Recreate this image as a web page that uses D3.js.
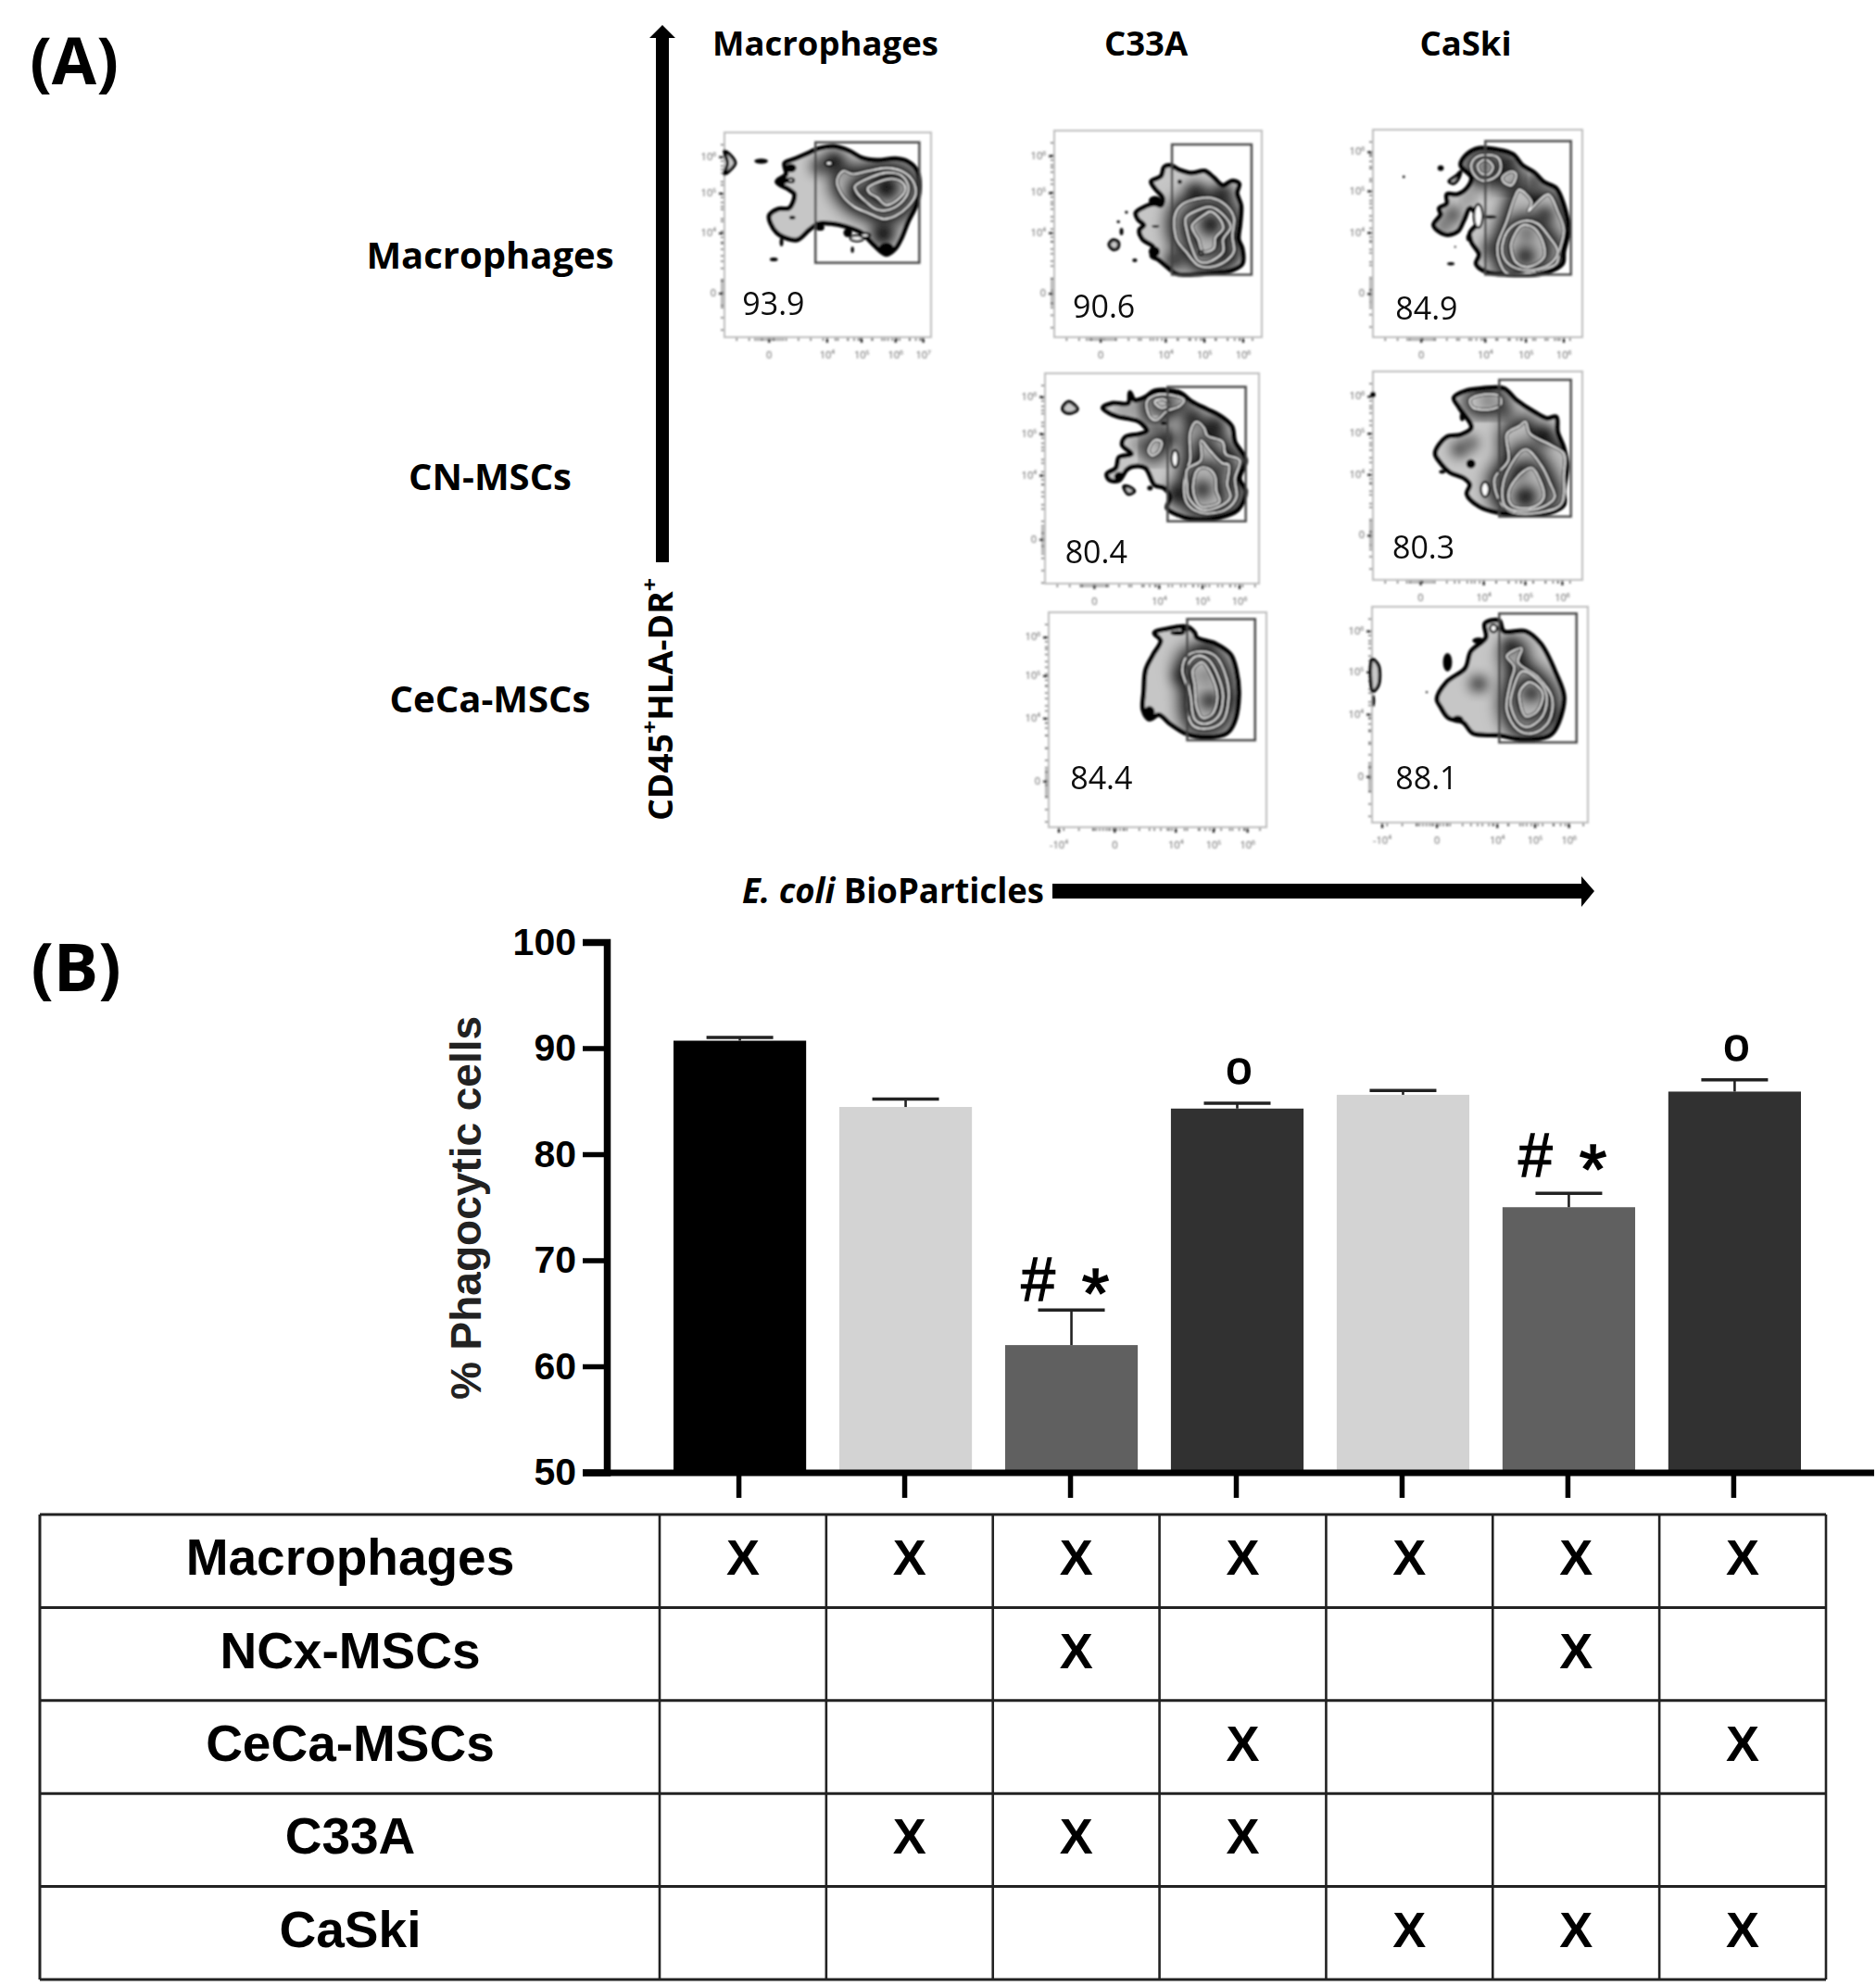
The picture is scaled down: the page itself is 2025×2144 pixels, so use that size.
<!DOCTYPE html>
<html><head><meta charset="utf-8">
<script src="https://cdn.jsdelivr.net/npm/d3@7"></script>
<style>html,body{margin:0;padding:0;background:#fff}svg{display:block}</style>
</head><body><svg id="c" width="2025" height="2144"></svg>
<script>
// ---------- Panel B data ----------
const barGroups=["g1","g2","g3","g4","g5","g6","g7"];
const barValues=[90.7,84.45,62.0,84.3,85.6,75.0,85.9];
const barErrors=[0.3,0.75,3.3,0.5,0.4,1.3,1.1];
const barColors=["#000000","#d3d3d3","#606060","#313131","#d3d3d3","#606060","#313131"];
const yTicks=[50,60,70,80,90,100];
const hashStarBars=[2,5];
const ringBars=[3,6];
const tableRows=["Macrophages","NCx-MSCs","CeCa-MSCs","C33A","CaSki"];
const rowMacrophages=[1,1,1,1,1,1,1];
const rowNCx=[0,0,1,0,0,1,0];
const rowCeCa=[0,0,0,1,0,0,1];
const rowC33A=[0,1,1,1,0,0,0];
const rowCaSki=[0,0,0,0,1,1,1];
const tableMarks=[rowMacrophages,rowNCx,rowCeCa,rowC33A,rowCaSki];

// ---------- Panel A data: gate percentages and contour readings ----------
const colHeaders=["Macrophages","C33A","CaSki"];
const rowHeaders=["Macrophages","CN-MSCs","CeCa-MSCs"];
const gatePercents=["93.9","90.6","84.9","80.4","80.3","84.4","88.1"];
const flowTickLabels=["-10⁴","0","10⁴","10⁵","10⁶","10⁷"];

const p1={
 outer:[[270,340],[300,318],[335,315],[352,270],[335,255],[295,230],[325,205],[320,170],[355,155],[400,135],[430,122],[480,115],[530,130],[570,152],[620,160],[680,155],[720,165],[750,195],[757,260],[745,310],[720,360],[700,410],[680,445],[650,465],[610,435],[570,395],[520,375],[470,365],[430,365],[400,385],[360,418],[320,410],[295,395],[275,365]],
 chains:[[[[490,225],[510,195],[540,205],[590,195],[650,185],[700,195],[735,225],[745,270],[720,310],[680,340],[640,350],[590,330],[545,310],[505,270]],
  [[548,245],[600,215],[650,200],[700,210],[722,250],[705,290],[660,320],[620,320],[585,295],[555,265]],
  [[590,250],[630,228],[670,220],[705,235],[712,255],[690,285],[650,305],[620,280],[595,265]]]],
 cores:[[650,248,32],[480,165,28],[560,270,20],[640,400,30],[430,180,18]],
 blobs:[[244,163,22,8],[285,481,13,6],[345,345,10,6],[312,225,20,13],[340,185,18,14],[650,445,24,18],[435,378,14,10],[525,395,14,14],[310,425,6,14],[540,450,5,10]],
 holes:[[464,170,12,8],[340,225,10,6],[555,413,22,9],[581,403,16,7]],
 islands:[[[125,130],[150,150],[160,170],[140,195],[125,205],[135,170]]],
 gate:[420,102,757,492], label:[183,662], xT:[[270,1],[458,2],[570,3],[680,4],[770,5]], yT:[[150,4],[268,3],[397,2],[592,1]], zero:[270,592]
};
const p2={
 outer:[[408,315],[430,298],[470,285],[490,290],[495,265],[470,235],[458,212],[490,195],[500,165],[520,160],[550,175],[590,185],[630,178],[660,200],[690,225],[720,210],[742,220],[735,250],[748,290],[745,350],[740,400],[752,430],[752,480],[720,500],[650,510],[540,512],[510,490],[480,465],[460,455],[465,425],[430,400],[420,370],[435,355],[415,335]],
 chains:[[[[535,320],[560,285],[600,270],[650,265],[700,290],[725,330],[720,390],[725,440],[700,470],[650,490],[610,485],[570,440],[540,400]],
  [[570,330],[610,305],[650,295],[690,320],[715,360],[690,400],[690,440],[640,475],[610,470],[590,430],[575,380]],
  [[590,355],[630,320],[650,310],[680,335],[690,365],[665,395],[660,430],[625,440],[610,400],[595,375]]]],
 cores:[[650,352,28],[600,245,22],[690,250,22],[530,470,22],[700,450,18]],
 blobs:[[470,275,20,16],[468,440,18,18],[550,213,7,7],[405,468,8,6],[362,375,6,12],[352,343,5,5],[378,312,5,5],[472,358,12,4]],
 holes:[[618,445,6,6]],
 islands:[[[322,417],[335,402],[352,410],[350,428],[335,433]]],
 gate:[525,92,782,515], label:[205,655], xT:[[295,1],[505,2],[630,3],[755,4]], yT:[[130,4],[250,3],[380,2],[577,1]], zero:[295,577]
};
const p3={
 outer:[[322,355],[345,320],[340,300],[365,285],[365,255],[400,255],[430,235],[445,200],[410,160],[430,125],[470,105],[530,110],[580,125],[610,160],[650,185],[680,215],[720,235],[745,290],[760,370],[745,440],[740,480],[680,510],[560,515],[490,505],[460,480],[470,450],[445,410],[440,380],[470,340],[440,300],[420,340],[400,375],[360,385]],
 chains:[[[[445,155],[470,130],[530,135],[540,170],[520,200],[480,210],[450,185]],[[465,160],[490,142],[515,165],[500,190],[475,185]]],
  [[[545,200],[575,180],[590,190],[575,225],[550,215]]],
  [[[530,420],[560,340],[585,265],[600,240],[640,280],[630,310],[650,290],[695,255],[725,310],[745,370],[730,440],[720,480],[650,505],[560,510],[535,470]],
  [[545,420],[570,365],[620,340],[660,350],[695,390],[725,440],[700,480],[640,500],[580,490],[550,460]],
  [[575,410],[610,355],[650,365],[680,420],[680,460],[630,490],[590,475],[575,440]]]],
 cores:[[620,455,24],[625,382,14],[385,320,18],[355,358,14],[435,270,10],[685,320,20],[565,145,18],[490,165,14],[650,210,18],[500,430,14]],
 blobs:[[345,170,10,9],[225,198,4,4],[378,480,12,5],[392,425,3,3],[435,395,7,12],[505,328,22,6]],
 holes:[[467,325,14,38]],
 islands:[[[372,212],[395,195],[410,180],[402,205],[385,220]]],
 gate:[490,82,768,515], label:[198,660], xT:[[282,1],[490,2],[622,3],[745,4]], yT:[[118,4],[245,3],[380,2],[578,1]], zero:[282,578]
};
const p4={
 outer:[[302,150],[335,135],[385,135],[390,100],[405,125],[440,115],[470,95],[550,100],[590,130],[640,155],[680,175],[720,210],[730,260],[765,320],[745,380],[765,420],[740,480],[680,505],[590,510],[540,495],[510,475],[520,440],[500,410],[470,400],[440,345],[400,340],[380,350],[355,385],[325,385],[315,365],[345,345],[355,310],[395,300],[365,270],[375,245],[420,235],[445,225],[420,195],[385,185],[350,178],[320,165]],
 chains:[[[[445,130],[470,110],[530,110],[565,125],[550,145],[510,160],[475,190],[455,180]],[[470,130],[500,122],[515,140],[490,150]]],
  [[[450,290],[470,255],[492,260],[485,290],[462,305]]],
  [[[568,370],[585,320],[585,230],[605,195],[630,215],[640,240],[690,260],[700,300],[745,320],[730,380],[735,440],[700,480],[620,490],[575,460]],
  [[575,400],[575,350],[620,320],[620,255],[650,290],[690,330],[710,335],[705,400],[715,440],[680,470],[620,480],[580,440]],
  [[595,400],[610,350],[640,345],[665,370],[670,420],[680,455],[620,470],[600,440]]]],
 cores:[[625,415,22],[665,210,25],[540,430,25],[515,250,22],[590,180,20],[420,270,12],[370,160,10],[690,340,14]],
 blobs:[[455,410,9,8],[355,372,16,14],[500,200,10,6],[512,475,6,8]],
 holes:[[536,315,11,28]],
 islands:[[[172,150],[190,130],[210,140],[220,155],[195,168],[175,160]],[[370,405],[385,405],[405,420],[385,430]]],
 gate:[512,82,765,518], label:[180,655], xT:[[275,1],[485,2],[625,3],[745,4]], yT:[[115,4],[235,3],[370,2],[578,1]], zero:[275,578]
};
const p5={
 outer:[[327,298],[365,245],[410,238],[445,215],[405,150],[388,118],[430,95],[480,88],[550,88],[590,125],[650,165],[690,185],[720,180],[725,230],[745,280],[755,340],[745,420],[745,465],[700,490],[600,495],[530,490],[470,470],[430,430],[440,400],[420,378],[375,360],[345,330]],
 chains:[[[[440,125],[470,110],[535,112],[540,140],[510,155],[450,150]]],
  [[[520,380],[565,320],[560,235],[600,210],[620,195],[635,235],[700,270],[745,300],[745,370],[738,460],[690,485],[580,490],[540,460]],
  [[545,430],[560,360],[620,285],[670,335],[700,395],[715,440],[680,470],[600,485],[555,470]],
  [[565,430],[590,380],[640,345],[665,380],[680,440],[650,470],[600,475],[575,465]]]],
 cores:[[620,440,28],[405,285,18],[445,265,15],[555,165,15],[680,240,25],[600,355,15],[500,128,12]],
 blobs:[[443,332,15,15],[350,358,10,6],[125,108,8,10],[415,180,8,14]],
 holes:[[489,415,13,24]],
 islands:[],
 gate:[535,60,768,503], label:[188,640], xT:[[280,1],[485,2],[620,3],[740,4]], yT:[[115,4],[235,3],[368,2],[565,1]], zero:[280,565]
};
const p6={
 outer:[[358,130],[400,115],[445,110],[465,130],[470,145],[520,165],[560,200],[575,250],[582,330],[570,420],[550,455],[500,468],[445,458],[400,425],[370,395],[345,410],[328,380],[330,320],[335,250],[355,200],[375,155]],
 chains:[[[[432,250],[445,205],[480,190],[520,205],[550,280],[555,340],[540,415],[500,440],[460,430],[445,380],[445,310]],
  [[445,240],[470,205],[500,215],[530,280],[540,340],[525,405],[490,425],[465,410],[455,340]],
  [[460,250],[485,225],[510,270],[525,340],[510,395],[485,405],[470,370],[465,300]]]],
 cores:[[505,350,20],[495,270,10],[430,270,16],[500,175,14],[555,350,12]],
 blobs:[[345,385,14,18],[420,130,20,8],[440,118,12,8]],
 holes:[],islands:[],
 gate:[445,85,625,478], label:[135,636], xT:[[105,0],[253,1],[415,2],[515,3],[605,4]], yT:[[145,4],[270,3],[408,2],[612,1]], zero:[240,612]
};
const p7={
 outer:[[1105,345],[1130,290],[1180,245],[1195,190],[1235,145],[1232,100],[1270,90],[1282,125],[1340,125],[1380,165],[1420,260],[1442,340],[1420,440],[1400,465],[1330,475],[1270,462],[1200,455],[1175,420],[1135,405],[1115,370]],
 chains:[[[[1290,205],[1330,180],[1320,225],[1370,270],[1410,340],[1400,420],[1360,455],[1320,445],[1290,380],[1300,290],[1310,240]],
  [[1305,320],[1330,255],[1370,280],[1395,330],[1385,400],[1345,435],[1320,420],[1300,360]],
  [[1325,320],[1350,290],[1385,325],[1370,385],[1340,400],[1325,355]]]],
 cores:[[1355,325,20],[1215,295,18],[1300,170,18],[1410,400,14]],
 blobs:[[1133,225,12,30],[1160,410,15,12],[937,350,4,20],[1078,322,3,3],[1215,155,16,10]],
 holes:[[1255,115,9,12]],
 islands:[[[933,215],[950,235],[950,300],[935,320]]],
 gate:[1270,67,1475,485], label:[995,636], xT:[[960,0],[1105,1],[1265,2],[1365,3],[1455,4]], yT:[[125,4],[258,3],[395,2],[597,1]], zero:[1095,597]
};
const flowPanels=[p1,p2,p3,p4,p5,p6,p7];

// ---------- Layout ----------
const flowFrames=[
 {xr:[125,795],yr:[733,70],xp:[782,1005],yp:[364,143]},
 {xr:[145,815],yr:[718,47],xp:[1138,1362],yp:[364,141]},
 {xr:[125,805],yr:[718,45],xp:[1482,1708],yp:[364,140]},
 {xr:[115,808],yr:[720,38],xp:[1128,1359],yp:[630,403]},
 {xr:[125,805],yr:[708,33],xp:[1482,1708],yp:[626,401]},
 {xr:[78,655],yr:[760,63],xp:[1132,1367],yp:[893,661]},
 {xr:[933,1505],yr:[745,45],xp:[1481,1714],yp:[888,655]}
];
const svg=d3.select("#c");
const OS="'Open Sans',sans-serif", AR="'Liberation Sans',Arial,sans-serif";
const defs=svg.append("defs");
function blur(id,s){const f=defs.append("filter").attr("id",id).attr("x","-80%").attr("y","-80%").attr("width","260%").attr("height","260%");f.append("feGaussianBlur").attr("stdDeviation",s);}
blur("soft",0.8);blur("halo",9);blur("core",7);blur("tiny",0.5);blur("fog",0.9);
let clipN=0;

function drawPanel(p,fr,pct){
 const xs=d3.scaleLinear().domain(fr.xr).range(fr.xp), ys=d3.scaleLinear().domain(fr.yr).range(fr.yp);
 const L=d3.line().x(d=>xs(d[0])).y(d=>ys(d[1])).curve(d3.curveCatmullRomClosed.alpha(0.5));
 const g=svg.append("g").attr("filter","url(#soft)");
 const [x0,x1]=fr.xp,[yB,yT]=fr.yp;
 // axis ticks
 const t=g.append("g").attr("stroke","#666");
 const xMaj=p.xT.map(d=>d[0]), yMaj=p.yT.map(d=>d[0]);
 const minorLog=[2,4,6,8].map(Math.log10);
 const xDec=xMaj.slice(-3), yDec=yMaj.slice(0,3).reverse();
 const xStep=xDec[1]-xDec[0], yStep=yDec[0]-yDec[1];
 const xMin=[],yMin=[];
 d3.range(fr.xr[0],fr.xr[1],40).forEach(v=>xMin.push(v));
 d3.range(-45,50,9).forEach(v=>{xMin.push(p.zero[0]+v);yMin.push(p.zero[1]+v);});
 d3.range(fr.yr[1],fr.yr[0],40).forEach(v=>yMin.push(v));
 xDec.forEach(v=>minorLog.forEach(m=>xMin.push(v-xStep+m*xStep)));
 yDec.forEach(v=>minorLog.forEach(m=>yMin.push(v+yStep-m*yStep)));
 t.selectAll("line.xm").data(xMin.filter(v=>v>fr.xr[0]&&v<fr.xr[1])).join("line").attr("x1",d=>xs(d)).attr("x2",d=>xs(d)).attr("y1",yB).attr("y2",yB+4).attr("stroke-width",1.4);
 t.selectAll("line.ym").data(yMin.filter(v=>v>fr.yr[1]&&v<fr.yr[0])).join("line").attr("y1",d=>ys(d)).attr("y2",d=>ys(d)).attr("x1",x0).attr("x2",x0-4).attr("stroke-width",1.4);
 t.selectAll("line.xM").data(xMaj).join("line").attr("x1",d=>xs(d)).attr("x2",d=>xs(d)).attr("y1",yB).attr("y2",yB+6).attr("stroke-width",2.2).attr("stroke","#222");
 t.selectAll("line.yM").data(yMaj).join("line").attr("y1",d=>ys(d)).attr("y2",d=>ys(d)).attr("x1",x0).attr("x2",x0-6).attr("stroke-width",2.2).attr("stroke","#222");
 g.selectAll("text.xl").data(p.xT).join("text").attr("x",d=>xs(d[0])).attr("y",yB+23).attr("text-anchor","middle").attr("font-family",OS).attr("font-size",11).attr("fill","#666").text(d=>flowTickLabels[d[1]]);
 g.selectAll("text.yl").data(p.yT).join("text").attr("x",x0-9).attr("y",d=>ys(d[0])+3).attr("text-anchor","end").attr("font-family",OS).attr("font-size",11).attr("fill","#666").text(d=>flowTickLabels[d[1]]);
 g.append("rect").attr("x",x0).attr("y",yT).attr("width",x1-x0).attr("height",yB-yT).attr("fill","none").attr("stroke","#bdbdbd").attr("stroke-width",2);

 const kx=Math.abs(xs(1)-xs(0)), ky=Math.abs(ys(1)-ys(0));
 const clip=d=>{const id="cp"+(clipN++);defs.append("clipPath").attr("id",id).append("path").attr("d",L(d));return "url(#"+id+")";};
 const ring=d=>{g.append("path").attr("d",L(d)).attr("fill","none").attr("stroke","#000").attr("stroke-width",3.6);
  g.append("path").attr("d",L(d)).attr("fill","none").attr("stroke","#fff").attr("stroke-width",1.6);};

 g.selectAll("path.isl").data(p.islands).join("path").attr("d",L).attr("fill","#c8c8c8").attr("stroke","#000").attr("stroke-width",3.5);
 // outer contour and shading
 g.append("path").attr("d",L(p.outer)).attr("fill","#c6c6c6").attr("stroke","#000").attr("stroke-width",5);
 const outerClip=clip(p.outer);
 p.chains.forEach(chain=>chain.forEach((poly,i)=>{
  const c=g.append("g").attr("clip-path",i?clip(chain[i-1]):outerClip);
  c.append("path").attr("d",L(poly)).attr("fill","#000").attr("stroke","#000").attr("stroke-width",14).attr("filter","url(#halo)");
  g.append("path").attr("d",L(poly)).attr("fill",i?"#b4b4b4":"#bcbcbc");
 }));
 const cg=g.append("g").attr("clip-path",outerClip);
 cg.selectAll("ellipse").data(p.cores).join("ellipse").attr("cx",d=>xs(d[0])).attr("cy",d=>ys(d[1])).attr("rx",d=>d[2]*kx*1.25).attr("ry",d=>d[2]*ky*1.25).attr("fill","#000").attr("opacity",0.95).attr("filter","url(#core)");
 p.chains.forEach(chain=>chain.forEach(ring));
 g.selectAll("ellipse.b").data(p.blobs).join("ellipse").attr("cx",d=>xs(d[0])).attr("cy",d=>ys(d[1])).attr("rx",d=>d[2]*kx).attr("ry",d=>d[3]*ky).attr("fill","#000");
 g.selectAll("ellipse.h").data(p.holes).join("ellipse").attr("cx",d=>xs(d[0])).attr("cy",d=>ys(d[1])).attr("rx",d=>d[2]*kx).attr("ry",d=>d[3]*ky).attr("fill","#fff").attr("stroke","#000").attr("stroke-width",2.5);
 // gate
 g.append("rect").attr("x",xs(p.gate[0])).attr("y",ys(p.gate[1])).attr("width",xs(p.gate[2])-xs(p.gate[0])).attr("height",ys(p.gate[3])-ys(p.gate[1])).attr("fill","none").attr("stroke","#444").attr("stroke-width",2.4);
 // percent
 svg.append("text").attr("x",xs(p.label[0])).attr("y",ys(p.label[1])).attr("font-family",OS).attr("font-size",34).attr("fill","#111").attr("filter","url(#tiny)").text(pct);
}
flowPanels.forEach((p,i)=>drawPanel(p,flowFrames[i],gatePercents[i]));

// panel letters & headers
const txt=(s,x,y,fs,o={})=>svg.append("text").attr("x",x).attr("y",y).attr("font-family",o.f||OS).attr("font-size",fs).attr("font-weight",o.w||700).attr("text-anchor",o.a||"middle").attr("dominant-baseline","central").attr("fill","#000").text(s);
txt("(A)",80,64,70);
txt("(B)",82,1042,72);
[891,1237,1582].forEach((x,i)=>txt(colHeaders[i],x,46,36.5));
[274,513,753].forEach((y,i)=>txt(rowHeaders[i],529,y,40));

// axis arrows
const vArrow=d3.path();vArrow.moveTo(715,27);vArrow.lineTo(729,41);vArrow.lineTo(722,41);vArrow.lineTo(722,607);vArrow.lineTo(708,607);vArrow.lineTo(708,41);vArrow.lineTo(701,41);vArrow.closePath();
svg.append("path").attr("d",vArrow.toString()).attr("fill","#000");
const hArrow=d3.path();hArrow.moveTo(1136,954);hArrow.lineTo(1707,954);hArrow.lineTo(1707,946);hArrow.lineTo(1721,962);hArrow.lineTo(1707,979);hArrow.lineTo(1707,970);hArrow.lineTo(1136,970);hArrow.closePath();
svg.append("path").attr("d",hArrow.toString()).attr("fill","#000");
const yt=svg.append("text").attr("transform","translate(712,886) rotate(-90)").attr("font-family",OS).attr("font-weight",700).attr("font-size",36).attr("dominant-baseline","central").attr("textLength",262).attr("lengthAdjust","spacingAndGlyphs");
yt.append("tspan").text("CD45");yt.append("tspan").attr("dy",-12).attr("font-size",24).text("+");yt.append("tspan").attr("dy",12).text("HLA-DR");yt.append("tspan").attr("dy",-12).attr("font-size",24).text("+");
const ht=svg.append("text").attr("x",801).attr("y",975).attr("font-family",OS).attr("font-weight",700).attr("font-size",38).attr("textLength",326).attr("lengthAdjust","spacingAndGlyphs");
ht.append("tspan").attr("font-style","italic").text("E. coli");ht.append("tspan").text(" BioParticles");

// ---------- Bar chart ----------
const x=d3.scaleBand().domain(barGroups).range([727,1944]).paddingInner(0.2).paddingOuter(0);
const y=d3.scaleLinear().domain([50,100]).range([1589.5,1017]);
svg.selectAll("rect.bar").data(barValues).join("rect").attr("class","bar").attr("x",(d,i)=>x(barGroups[i])).attr("width",x.bandwidth()).attr("y",d=>y(d)).attr("height",d=>y(50)-y(d)).attr("fill",(d,i)=>barColors[i]);
const eb=svg.append("g").attr("stroke","#222");
barValues.forEach((v,i)=>{const cx=x(barGroups[i])+x.bandwidth()/2;
 eb.append("line").attr("x1",cx).attr("x2",cx).attr("y1",y(v)).attr("y2",y(v+barErrors[i])).attr("stroke-width",2.6);
 eb.append("line").attr("x1",cx-36).attr("x2",cx+36).attr("y1",y(v+barErrors[i])).attr("y2",y(v+barErrors[i])).attr("stroke-width",3.5);
});
const gy=svg.append("g").attr("transform","translate(655,0)").call(d3.axisLeft(y).tickValues(yTicks).tickSize(26).tickPadding(7));
gy.select(".domain").attr("stroke","#000").attr("stroke-width",7.5);
gy.selectAll(".tick line").attr("stroke","#000").attr("stroke-width",5.5);
gy.selectAll(".tick text").attr("font-family",AR).attr("font-weight",700).attr("font-size",41).attr("fill","#000");
const gx=svg.append("g").attr("transform","translate(-1,1590)").call(d3.axisBottom(x).tickSize(27).tickFormat(""));
gx.select(".domain").remove();
gx.selectAll(".tick line").attr("stroke","#000").attr("stroke-width",5.5);
svg.append("line").attr("x1",629).attr("x2",2023).attr("y1",y(50)+0.5).attr("y2",y(50)+0.5).attr("stroke","#000").attr("stroke-width",7);
svg.append("text").attr("transform","translate(519,1304) rotate(-90)").attr("text-anchor","middle").attr("font-family",AR).attr("font-weight",700).attr("font-size",46).attr("fill","#222").text("% Phagocytic cells");

const hashLift=[0,8];
hashStarBars.forEach((i,k)=>{const cx=x(barGroups[i])+x.bandwidth()/2, top=y(barValues[i]+barErrors[i])-hashLift[k];
 svg.append("text").attr("x",cx-36).attr("y",top-10).attr("text-anchor","middle").attr("font-family",AR).attr("font-size",66).attr("fill","#000").attr("stroke","#000").attr("stroke-width",1.4).text("#");
 svg.append("text").attr("x",cx+26).attr("y",top+8).attr("text-anchor","middle").attr("font-family",AR).attr("font-size",76).attr("fill","#000").attr("stroke","#000").attr("stroke-width",1.6).text("*");
});
ringBars.forEach(i=>{const cx=x(barGroups[i])+x.bandwidth()/2, top=y(barValues[i]+barErrors[i]);
 svg.append("text").attr("x",cx+2).attr("y",top-21).attr("text-anchor","middle").attr("font-family",AR).attr("font-size",50).attr("fill","#000").attr("stroke","#000").attr("stroke-width",1.5).text("o");
});

// ---------- Table ----------
const colEdge=d3.scaleLinear().domain([0,7]).range([712,1971]);
const rowBand=d3.scaleBand().domain(tableRows).range([1635,2137]);
const tb=svg.append("g");
tb.selectAll("line.h").data(d3.range(6)).join("line").attr("x1",43).attr("x2",1971).attr("y1",d=>1635+d*rowBand.step()).attr("y2",d=>1635+d*rowBand.step()).attr("stroke","#222").attr("stroke-width",3);
tb.selectAll("line.v").data(d3.range(8)).join("line").attr("x1",d=>colEdge(d)).attr("x2",d=>colEdge(d)).attr("y1",1635).attr("y2",2137).attr("stroke","#222").attr("stroke-width",2.6);
tb.append("line").attr("x1",43).attr("x2",43).attr("y1",1635).attr("y2",2137).attr("stroke","#222").attr("stroke-width",3);
tableRows.forEach((r,ri)=>{const cy=rowBand(r)+rowBand.bandwidth()/2-4;
 txt(r,378,cy,55,{f:AR});
 tableMarks[ri].forEach((m,ci)=>{if(m)txt("X",colEdge(ci+0.5),cy,54,{f:AR});});
});
</script></body></html>
